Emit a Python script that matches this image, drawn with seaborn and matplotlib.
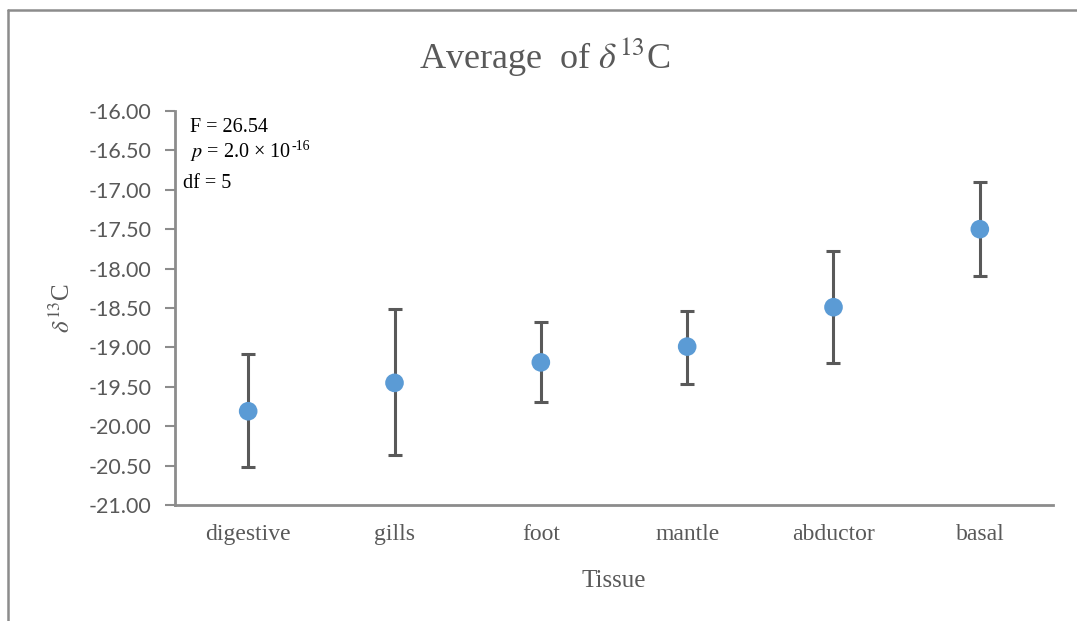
import matplotlib
matplotlib.use("Agg")
import matplotlib.pyplot as plt
import seaborn as sns
import pandas as pd
import numpy as np
from matplotlib.lines import Line2D
from matplotlib.ticker import FormatStrFormatter

# ---- data ----
tissues = ["digestive", "gills", "foot", "mantle", "abductor", "basal"]
means = [-19.81, -19.45, -19.19, -18.99, -18.49, -17.50]
upper = [-19.09, -18.51, -18.68, -18.54, -17.78, -16.90]
lower = [-20.52, -20.36, -19.69, -19.46, -19.20, -18.10]
yticks = [-16.0, -16.5, -17.0, -17.5, -18.0, -18.5, -19.0, -19.5, -20.0, -20.5, -21.0]
annot_F = "F = 26.54"
annot_p = r"$p$ = 2.0 × 10"
annot_p_exp = "-16"
annot_df = "df = 5"

df = pd.DataFrame({"Tissue": tissues, "mean": means, "upper": upper, "lower": lower})

sns.set_theme(style="white")
plt.rcParams["axes.unicode_minus"] = False
plt.rcParams["mathtext.fontset"] = "stix"
plt.rcParams["font.family"] = ["Liberation Serif", "DejaVu Sans"]

W, H = 1077, 621
fig = plt.figure(figsize=(W / 100, H / 100), dpi=100)
ax = fig.add_axes([175 / W, 1 - 505 / H, (1053 - 175) / W, (505 - 111) / H])

gray = "#595959"
pos = np.arange(len(tissues))
yerr = np.vstack([df["mean"] - df["lower"], df["upper"] - df["mean"]])
ax.errorbar(pos, df["mean"], yerr=yerr, fmt="none", ecolor=gray,
            elinewidth=2.2, capsize=4.8, capthick=2.2, zorder=2)
sns.scatterplot(data=df, x="Tissue", y="mean", ax=ax, color="#5B9BD5",
                s=180, edgecolor="none", zorder=3)

ax.set_xlim(-0.5, len(tissues) - 0.5)
ax.set_ylim(-21, -16)
ax.set_yticks(yticks)
ax.yaxis.set_major_formatter(FormatStrFormatter("%.2f"))
ax.set_xticks(pos)
ax.set_xticklabels(tissues, fontsize=17, color=gray, family="Liberation Serif")
for lab in ax.get_yticklabels():
    lab.set_fontfamily(["Lato", "DejaVu Sans"])
    lab.set_fontsize(15.5)
    lab.set_color(gray)

ax.tick_params(axis="y", which="major", direction="out", length=7, width=1.5,
               color="#8c8c8c", pad=10, left=True)
ax.tick_params(axis="x", length=0, pad=14)

for side in ["top", "right"]:
    ax.spines[side].set_visible(False)
for side in ["left", "bottom"]:
    ax.spines[side].set_color("#8c8c8c")
    ax.spines[side].set_linewidth(2)

ax.set_xlabel("Tissue", fontsize=18, color=gray, labelpad=18)
ax.set_ylabel(r"$\delta^{13}$C", fontsize=18, color=gray, labelpad=10)

fig.text(545 / W, 1 - 57 / H, r"Average  of $\delta^{13}$C", ha="center", va="center",
         fontsize=26, color=gray)

# annotation
fig.text(190 / W, 1 - 128 / H, annot_F, ha="left", va="center", fontsize=14.5, color="black")
tp = fig.text(190 / W, 1 - 152 / H, annot_p, ha="left", va="center", fontsize=14.5, color="black")
fig.text(183 / W, 1 - 184 / H, annot_df, ha="left", va="center", fontsize=14.5, color="black")
fig.canvas.draw()
bb = tp.get_window_extent(renderer=fig.canvas.get_renderer())
fig.text((bb.x1 + 1) / W, (bb.y1 + 1) / H, annot_p_exp, ha="left", va="top",
         fontsize=10, color="black")

# outer frame (left and top edges visible)
fig.add_artist(Line2D([8 / W, 8 / W], [1 - 10 / H, 0], transform=fig.transFigure,
                      color="#8c8c8c", lw=1.8))
fig.add_artist(Line2D([8 / W, 1], [1 - 10 / H, 1 - 10 / H], transform=fig.transFigure,
                      color="#8c8c8c", lw=1.8))

fig.savefig("out.png", dpi=100, facecolor="white")
